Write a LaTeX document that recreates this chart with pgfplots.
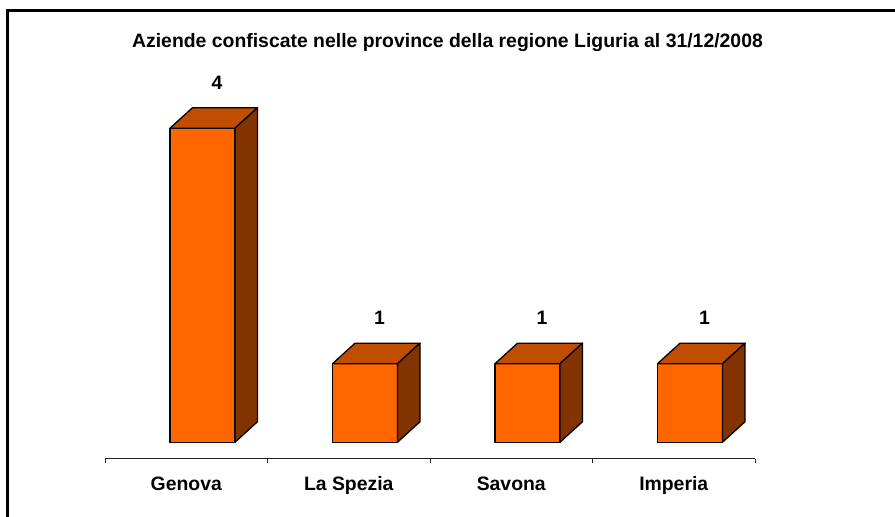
\documentclass[border=0pt]{standalone}
\usepackage{pgfplots}
\pgfplotsset{compat=1.18}
\usepackage{fontspec}
\setmainfont{Liberation Sans}
\definecolor{frontc}{HTML}{FF6600}
\definecolor{topc}{HTML}{C04D00}
\definecolor{sidec}{HTML}{833300}
\newcommand{\lblfont}{\fontsize{19.4}{23}\selectfont\bfseries}
\begin{document}
\begin{tikzpicture}[x=1pt,y=1pt]
\begin{axis}[
  at={(105pt,58pt)}, anchor=south west,
  scale only axis, width=650pt, height=379pt,
  xmin=0, xmax=4, ymin=-0.214, ymax=4.614,
  axis x line*=bottom, axis y line=none,
  xtick={0.5,1.5,2.5,3.5},
  xticklabels={Genova,La Spezia,Savona,Imperia},
  major tick length=0pt,
  minor xtick={0,1,2,3,4}, minor tick length=4.5pt,
  tick align=outside,
  xticklabel style={font=\lblfont, anchor=base, yshift=-31pt},
  x axis line style={black!85, line width=1pt, -},
  every tick/.style={black!85, line width=1pt},
  clip=false,
  /pgf/number format/assume math mode=true,
]
% front faces
\addplot[ybar, bar width=0.4, fill=frontc, draw=black, line width=1.3pt,
  nodes near coords,
  nodes near coords style={font=\lblfont, anchor=base, xshift=14.5pt, yshift=39pt, black}]
  coordinates {(0.6,4) (1.6,1) (2.6,1) (3.6,1)};
% top faces
\addplot[fill=topc, draw=black, line width=1.3pt, line join=round]
  coordinates {(0.4,4) (0.8,4) (0.9385,4.2611) (0.5385,4.2611)} -- cycle;
\addplot[fill=topc, draw=black, line width=1.3pt, line join=round]
  coordinates {(1.4,1) (1.8,1) (1.9385,1.2611) (1.5385,1.2611)} -- cycle;
\addplot[fill=topc, draw=black, line width=1.3pt, line join=round]
  coordinates {(2.4,1) (2.8,1) (2.9385,1.2611) (2.5385,1.2611)} -- cycle;
\addplot[fill=topc, draw=black, line width=1.3pt, line join=round]
  coordinates {(3.4,1) (3.8,1) (3.9385,1.2611) (3.5385,1.2611)} -- cycle;
% side faces
\addplot[fill=sidec, draw=black, line width=1.3pt, line join=round]
  coordinates {(0.8,0) (0.8,4) (0.9385,4.2611) (0.9385,0.2611)} -- cycle;
\addplot[fill=sidec, draw=black, line width=1.3pt, line join=round]
  coordinates {(1.8,0) (1.8,1) (1.9385,1.2611) (1.9385,0.2611)} -- cycle;
\addplot[fill=sidec, draw=black, line width=1.3pt, line join=round]
  coordinates {(2.8,0) (2.8,1) (2.9385,1.2611) (2.9385,0.2611)} -- cycle;
\addplot[fill=sidec, draw=black, line width=1.3pt, line join=round]
  coordinates {(3.8,0) (3.8,1) (3.9385,1.2611) (3.9385,0.2611)} -- cycle;
\end{axis}
\node[font=\lblfont, anchor=base] at (447.5pt,469pt)
  {Aziende confiscate nelle province della regione Liguria al 31/12/2008};
\draw[line width=2.2pt] (7.5pt,-5pt) -- (7.5pt,506.5pt) -- (905pt,506.5pt);
\pgfresetboundingbox
\useasboundingbox (0pt,0pt) rectangle (895pt,517pt);
\end{tikzpicture}
\end{document}
